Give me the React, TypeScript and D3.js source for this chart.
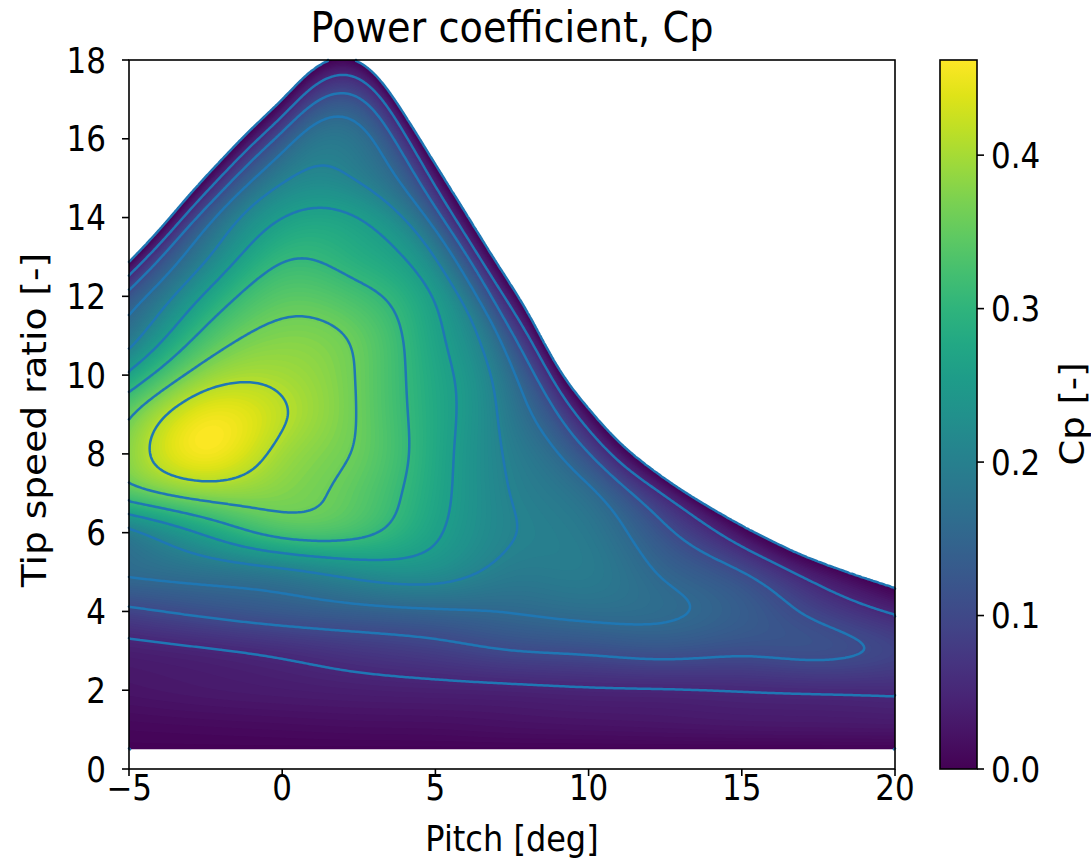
import { useEffect, useRef } from "react";
import * as d3 from "d3";

// table grid: pitch columns [deg], tip speed ratio rows [-]
const PITCH = [-5, -2.5, 0, 2.5, 5, 7.5, 10, 12.5, 15, 17.5, 20];
const TSR = [0.5, 1, 2, 3, 4, 5, 6, 7, 8, 9, 10, 11, 12, 13, 14, 15, 16, 17, 18];

// Cp, one array per pitch (values follow TSR). below zero = blank area
const cpPitchM5 = [0.002, 0.008, 0.025, 0.039, 0.094, 0.159, 0.195, 0.335, 0.38, 0.352, 0.266, 0.18, 0.117, -0.025, -0.146, -0.3, -0.45, -0.6, -0.7];
const cpPitchM2p5 = [0.002, 0.01, 0.03, 0.048, 0.113, 0.175, 0.265, 0.381, 0.455, 0.447, 0.383, 0.321, 0.262, 0.197, 0.124, -0.005, -0.1, -0.25, -0.4];
const cpPitch0 = [0.002, 0.012, 0.034, 0.06, 0.128, 0.195, 0.323, 0.374, 0.397, 0.415, 0.398, 0.372, 0.34, 0.301, 0.254, 0.194, 0.114, -0.011, -0.05];
const cpPitch2p5 = [0.002, 0.014, 0.038, 0.074, 0.14, 0.224, 0.318, 0.343, 0.354, 0.357, 0.356, 0.35, 0.322, 0.286, 0.255, 0.2, 0.17, 0.103, -0.013];
const cpPitch5 = [0.002, 0.015, 0.041, 0.086, 0.149, 0.226, 0.263, 0.274, 0.278, 0.279, 0.276, 0.268, 0.252, 0.205, 0.132, 0.04, -0.042, -0.11, -0.2];
const cpPitch7p5 = [0.002, 0.018, 0.044, 0.102, 0.156, 0.192, 0.207, 0.204, 0.197, 0.184, 0.162, 0.109, 0.023, -0.065, -0.16, -0.29, -0.4, -0.5, -0.6];
const cpPitch10 = [0.002, 0.02, 0.048, 0.11, 0.166, 0.19, 0.185, 0.163, 0.103, 0.01, -0.083, -0.16, -0.26, -0.35, -0.45, -0.55, -0.65, -0.75, -0.85];
const cpPitch12p5 = [0.002, 0.022, 0.05, 0.118, 0.16, 0.148, 0.112, 0.036, -0.088, -0.115, -0.2, -0.3, -0.4, -0.5, -0.6, -0.7, -0.8, -0.9, -1.0];
const cpPitch15 = [0.002, 0.024, 0.053, 0.11, 0.134, 0.103, 0.016, -0.077, -0.15, -0.25, -0.35, -0.45, -0.55, -0.65, -0.75, -0.85, -0.95, -1.05, -1.15];
const cpPitch17p5 = [0.002, 0.025, 0.056, 0.112, 0.09, 0.021, -0.087, -0.15, -0.22, -0.3, -0.4, -0.5, -0.6, -0.7, -0.8, -0.9, -1.0, -1.1, -1.2];
const cpPitch20 = [0.002, 0.026, 0.057, 0.092, 0.043, -0.037, -0.1, -0.17, -0.25, -0.33, -0.42, -0.52, -0.62, -0.72, -0.82, -0.92, -1.02, -1.12, -1.22];

const CP_COLUMNS = [cpPitchM5, cpPitchM2p5, cpPitch0, cpPitch2p5, cpPitch5, cpPitch7p5, cpPitch10, cpPitch12p5, cpPitch15, cpPitch17p5, cpPitch20];

// edge of the positive-Cp region (Cp = 0), read every degree of pitch
const ZERO_PITCH = [-5, -4, -3, -2, -1, 0, 1, 2, 3, 4, 5, 6, 7, 8, 9, 10, 11, 12, 13, 14, 15, 16, 17, 18, 19, 20];
const ZERO_TSR = [12.87, 13.7, 14.6, 15.45, 16.25, 17.0, 17.75, 18.05, 17.65, 16.6, 15.35, 14.1, 12.85, 11.6, 10.2, 9.15, 8.3, 7.65, 7.1, 6.62, 6.18, 5.78, 5.42, 5.12, 4.85, 4.6];

// contour line levels and colour range
const LEVELS = [0, 0.0513, 0.1027, 0.154, 0.2053, 0.2567, 0.308, 0.3593, 0.4107];
const CP_MAX = 0.462;

const X_TICKS = [-5, 0, 5, 10, 15, 20];
const Y_TICKS = [0, 2, 4, 6, 8, 10, 12, 14, 16, 18];
const CB_TICKS = [0, 0.1, 0.2, 0.3, 0.4];

const W = 1091;
const H = 866;
const FONT = "DejaVu Sans";
const SY = 1.12; // the picture is a bit stretched vertically

// natural cubic spline through the table points
function spline(xs, ys) {
  const n = xs.length;
  const h = [];
  for (let i = 0; i < n - 1; i++) h[i] = xs[i + 1] - xs[i];
  const a = new Array(n).fill(0);
  const b = new Array(n).fill(1);
  const c = new Array(n).fill(0);
  const d = new Array(n).fill(0);
  for (let i = 1; i < n - 1; i++) {
    a[i] = h[i - 1];
    b[i] = 2 * (h[i - 1] + h[i]);
    c[i] = h[i];
    d[i] = 6 * ((ys[i + 1] - ys[i]) / h[i] - (ys[i] - ys[i - 1]) / h[i - 1]);
  }
  for (let i = 1; i < n; i++) {
    const w = a[i] / b[i - 1];
    b[i] -= w * c[i - 1];
    d[i] -= w * d[i - 1];
  }
  const M = new Array(n);
  M[n - 1] = d[n - 1] / b[n - 1];
  for (let i = n - 2; i >= 0; i--) M[i] = (d[i] - c[i] * M[i + 1]) / b[i];
  return (x) => {
    let i = d3.bisectRight(xs, x) - 1;
    i = Math.max(0, Math.min(n - 2, i));
    const hi = h[i];
    const A = (xs[i + 1] - x) / hi;
    const B = (x - xs[i]) / hi;
    return A * ys[i] + B * ys[i + 1] + (((A * A * A - A) * M[i] + (B * B * B - B) * M[i + 1]) * hi * hi) / 6;
  };
}

// highest tsr where a column profile crosses zero
function rootOf(f, lo, hi) {
  let t = hi;
  while (t > lo && f(t) <= 0) t -= 0.01;
  let a = t;
  let b = t + 0.01;
  for (let k = 0; k < 30; k++) {
    const m = (a + b) / 2;
    if (f(m) > 0) a = m;
    else b = m;
  }
  return (a + b) / 2;
}

export default function App() {
  const ref = useRef(null);

  useEffect(() => {
    const svg = d3.select(ref.current);
    svg.selectAll("*").remove();

    const x = d3.scaleLinear().domain([-5, 20]).range([129, 895]);
    const y = d3.scaleLinear().domain([0, 18]).range([769, 60]);
    const cb = d3.scaleLinear().domain([0, CP_MAX]).range([769, 60]);

    const tMin = d3.min(TSR);
    const tMax = d3.max(TSR);
    const p0 = d3.min(PITCH);

    // column profiles and the zero line; near the top each column is shifted
    // so its zero crossing follows the zero line between table columns
    const colFns = CP_COLUMNS.map((col) => spline(TSR, col));
    const colRoots = colFns.map((f) => rootOf(f, tMin, tMax));
    const zeroLine = spline(ZERO_PITCH, ZERO_TSR);

    const nx = 383;
    const ny = 350;
    const dp = (d3.max(PITCH) - p0) / nx;
    const dt = (tMax - tMin) / ny;
    const values = new Array(nx * ny);
    for (let i = 0; i < nx; i++) {
      const p = p0 + (i + 0.5) * dp;
      const b = zeroLine(p);
      for (let j = 0; j < ny; j++) {
        const t = tMin + (j + 0.5) * dt;
        const s = (t - tMin) / (b - tMin);
        const w = Math.pow(s, 6);
        const colVals = colFns.map((f, c) => {
          const tc = Math.max(tMin, Math.min(tMax, t + (colRoots[c] - b) * w));
          return f(tc);
        });
        let v = spline(PITCH, colVals)(p);
        if (s >= 1) v = Math.min(v, -0.001);
        values[j * nx + i] = v;
      }
    }

    const toPx = (c) => [x(p0 + c[0] * dp), y(tMin + c[1] * dt)];
    const proj = d3.geoTransform({
      point(cx, cy) {
        const q = toPx([cx, cy]);
        this.stream.point(q[0], q[1]);
      },
    });
    const geoPath = d3.geoPath(proj);

    // shaded field
    const nBands = 120;
    const bandStep = CP_MAX / nBands;
    const bands = d3
      .contours()
      .size([nx, ny])
      .thresholds(d3.range(nBands).map((k) => k * bandStep))(values);

    svg
      .append("g")
      .selectAll("path")
      .data(bands)
      .join("path")
      .attr("d", geoPath)
      .attr("fill", (d) => d3.interpolateViridis(Math.min(1, (d.value + bandStep / 2) / CP_MAX)));

    // contour lines, without the parts running along the grid border
    const onBorder = (a, b) =>
      (a[0] === 0 && b[0] === 0) ||
      (a[0] === nx && b[0] === nx) ||
      (a[1] === 0 && b[1] === 0) ||
      (a[1] === ny && b[1] === ny);

    const linePath = (mp) => {
      let d = "";
      for (const poly of mp.coordinates) {
        for (const ring of poly) {
          let pen = false;
          for (let k = 1; k < ring.length; k++) {
            const a = ring[k - 1];
            const b = ring[k];
            if (onBorder(a, b)) {
              pen = false;
              continue;
            }
            if (!pen) {
              const pa = toPx(a);
              d += `M${pa[0].toFixed(2)},${pa[1].toFixed(2)}`;
              pen = true;
            }
            const pb = toPx(b);
            d += `L${pb[0].toFixed(2)},${pb[1].toFixed(2)}`;
          }
        }
      }
      return d;
    };

    const lines = d3.contours().size([nx, ny]).thresholds(LEVELS)(values);
    svg
      .append("g")
      .selectAll("path")
      .data(lines)
      .join("path")
      .attr("d", linePath)
      .attr("fill", "none")
      .attr("stroke", "#1f77b4")
      .attr("stroke-width", 2.5)
      .attr("stroke-linejoin", "round")
      .attr("stroke-linecap", "round");

    // frame
    svg
      .append("rect")
      .attr("x", 129)
      .attr("y", 60)
      .attr("width", 895 - 129)
      .attr("height", 769 - 60)
      .attr("fill", "none")
      .attr("stroke", "#000")
      .attr("stroke-width", 1.6);

    const label = (txt, px, py, size, anchor, rotate = false) =>
      svg
        .append("text")
        .attr("transform", `translate(${px},${py}) scale(1,${SY})${rotate ? " rotate(-90)" : ""}`)
        .attr("text-anchor", anchor)
        .attr("font-size", size)
        .attr("font-family", FONT)
        .attr("fill", "#000")
        .text(txt);

    const tick = (x1, y1, x2, y2) =>
      svg
        .append("line")
        .attr("x1", x1)
        .attr("y1", y1)
        .attr("x2", x2)
        .attr("y2", y2)
        .attr("stroke", "#000")
        .attr("stroke-width", 1.6);

    const fmtX = x.tickFormat();
    X_TICKS.forEach((v) => {
      tick(x(v), 769, x(v), 776);
      label(fmtX(v), x(v), 800, 31, "middle");
    });
    Y_TICKS.forEach((v) => {
      tick(122, y(v), 129, y(v));
      label(String(v), 106, y(v) + 12.6, 31, "end");
    });

    // colorbar
    const grad = svg
      .append("defs")
      .append("linearGradient")
      .attr("id", "cpGrad")
      .attr("x1", 0)
      .attr("y1", 1)
      .attr("x2", 0)
      .attr("y2", 0);
    grad
      .selectAll("stop")
      .data(d3.range(0, 1.0001, 0.05))
      .join("stop")
      .attr("offset", (d) => `${d * 100}%`)
      .attr("stop-color", (d) => d3.interpolateViridis(d));

    svg
      .append("rect")
      .attr("x", 940)
      .attr("y", 60)
      .attr("width", 37)
      .attr("height", 709)
      .attr("fill", "url(#cpGrad)")
      .attr("stroke", "#000")
      .attr("stroke-width", 1.6);

    const fmtCb = d3.format(".1f");
    CB_TICKS.forEach((v) => {
      tick(977, cb(v), 984, cb(v));
      label(fmtCb(v), 991, cb(v) + 12.6, 31, "start");
    });

    // titles
    label("Power coefficient, Cp", 512, 42, 38.3, "middle");
    label("Pitch [deg]", 512, 851, 32, "middle");
    label("Tip speed ratio [-]", 46, 420, 33.5, "middle", true);
    label("Cp [-]", 1084, 414, 33, "middle", true);
  }, []);

  return (
    <svg
      ref={ref}
      width={W}
      height={H}
      style={{ position: "absolute", left: 0, top: 0, background: "#fff" }}
    />
  );
}
